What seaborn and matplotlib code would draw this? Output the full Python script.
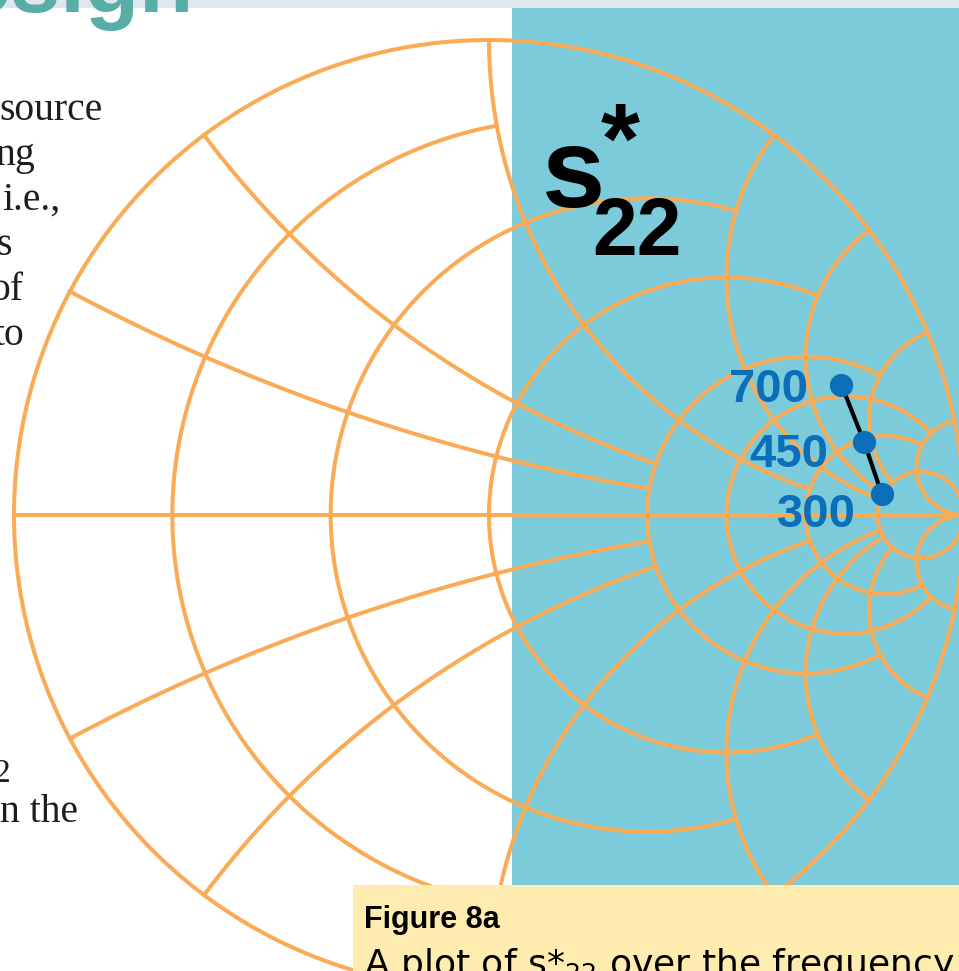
import numpy as np
import pandas as pd
import seaborn as sns
import matplotlib.pyplot as plt
from matplotlib.patches import Rectangle

# Smith chart grid (normalised impedance) and where each line stops
r_vals = [0, 0.2, 0.5, 1, 2, 3, 5, 10]
r_xlim = [np.inf, 1, 2, 3, 5, 10, 10, np.inf]
x_vals = [0, 0.25, 0.5, 1, 2, 3, 5, 10]
x_rlim = [np.inf, 2, 2, 5, 10, 10, 10, np.inf]

# s*22 readings as reflection coefficient
freqs = ['700', '450', '300']
gamma_re = [0.742, 0.790, 0.827]
gamma_im = [0.274, 0.153, 0.044]
label_offsets = [(-24.3, -12.2), (-26.1, -17.8), (-18.5, -23.5)]

# text around the chart (cut off by the page crop)
body_top = ['source', 'ng', 'i.e.,', 's', 'of', 'to']
body_top_ends = [103, 35, 60, 12, 23, 24]
caption_title = 'Figure 8a'
caption_text = r'A plot of s*$\mathregular{_{22}}$ over the frequency'

ORANGE = '#f9ab56'
BLUE_BG = '#7ccbdb'
DOT = '#0a6fb8'

W, H = 959, 971
CX, CY, R = 489, 515, 475


def gamma(z):
    return (z - 1) / (z + 1)


rows = []
seg = 0
for r, xm in zip(r_vals, r_xlim):
    s = np.linspace(-np.arctan(xm), np.arctan(xm), 1500)
    g = gamma(r + 1j * np.tan(s))
    rows.append(pd.DataFrame({'re': g.real, 'im': g.imag, 'seg': seg}))
    seg += 1
for x, rm in zip(x_vals, x_rlim):
    for sign in ([1] if x == 0 else [1, -1]):
        s = np.linspace(0, np.arctan(rm), 1500)
        g = gamma(np.tan(s) + 1j * sign * x)
        rows.append(pd.DataFrame({'re': g.real, 'im': g.imag, 'seg': seg}))
        seg += 1
grid = pd.concat(rows, ignore_index=True)

pts = pd.DataFrame({'freq': freqs, 're': gamma_re, 'im': gamma_im})

fig = plt.figure(figsize=(W / 100, H / 100), dpi=100)

# background layer in pixel coordinates
bg = fig.add_axes([0, 0, 1, 1], zorder=0)
bg.set_xlim(0, W)
bg.set_ylim(H, 0)
bg.axis('off')
bg.add_patch(Rectangle((0, 0), W, 8, color='#dfe6f0', lw=0))
bg.add_patch(Rectangle((512, 8), W - 512, H - 8, color=BLUE_BG, lw=0))
bg.text(193, 12, 'Design', ha='right', va='baseline', fontsize=64,
        fontweight='bold', color='#58aea7', family='Liberation Sans')
for i, (txt, xe) in enumerate(zip(body_top, body_top_ends)):
    bg.text(xe, 120 + 45 * i, txt, ha='right', va='baseline', fontsize=28.5,
            color='#1e1e1e', family='Liberation Serif')
bg.text(10, 782, '2', ha='right', va='baseline', fontsize=24,
        color='#1e1e1e', family='Liberation Serif')
bg.text(78, 822, 'n the', ha='right', va='baseline', fontsize=28.5,
        color='#1e1e1e', family='Liberation Serif')

# Smith chart layer in reflection coefficient coordinates
ax = fig.add_axes([0, 0, 1, 1], zorder=1)
ax.set_xlim(-CX / R, (W - CX) / R)
ax.set_ylim((CY - H) / R, CY / R)
ax.axis('off')
sns.lineplot(data=grid, x='re', y='im', units='seg', estimator=None, sort=False,
             color=ORANGE, linewidth=2.9, legend=False, ax=ax)
sns.lineplot(data=pts, x='re', y='im', estimator=None, sort=False,
             color='black', linewidth=3.0, legend=False, ax=ax, zorder=4)
sns.scatterplot(data=pts, x='re', y='im', s=280, color=DOT, linewidth=0,
                legend=False, ax=ax, zorder=5)
for f, xr, xi, off in zip(freqs, gamma_re, gamma_im, label_offsets):
    ax.annotate(f, (xr, xi), xytext=off, textcoords='offset points',
                ha='right', va='baseline', fontsize=34, fontweight='bold',
                color=DOT, family='Liberation Sans', zorder=6)
ax.set_xlabel('')
ax.set_ylabel('')

# overlay: chart label and caption box
top = fig.add_axes([0, 0, 1, 1], zorder=2)
top.set_xlim(0, W)
top.set_ylim(H, 0)
top.axis('off')
top.text(541, 207, 's', ha='left', va='baseline', fontsize=82,
         fontweight='bold', color='black', family='Liberation Sans')
top.text(620, 173, '*', ha='center', va='baseline', fontsize=72,
         fontweight='bold', color='black', family='Liberation Sans')
top.text(592, 255, '22', ha='left', va='baseline', fontsize=58,
         fontweight='bold', color='black', family='Liberation Sans')
top.add_patch(Rectangle((353, 885), W - 353, H - 885, color='#feebb0', lw=0))
top.text(364, 928, caption_title, ha='left', va='baseline', fontsize=22,
         fontweight='bold', color='black', family='Liberation Sans')
top.text(364, 975, caption_text, ha='left', va='baseline', fontsize=26,
         color='black', family='DejaVu Sans')

fig.savefig('out.png', dpi=100)
